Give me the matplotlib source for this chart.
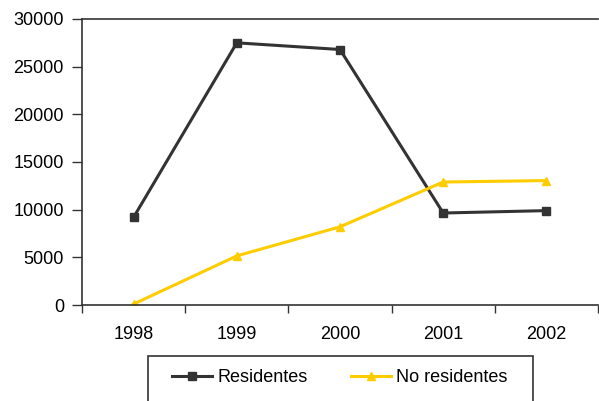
import numpy as np
import matplotlib
matplotlib.use("Agg")
import matplotlib.pyplot as plt
from matplotlib.patches import Rectangle

years = ["1998", "1999", "2000", "2001", "2002"]
residentes = [9200, 27500, 26800, 9650, 9900]
no_residentes = [100, 5150, 8200, 12900, 13050]

DARK = "#333333"
YELLOW = "#FFCC00"

plt.rcParams["font.family"] = ["Liberation Sans", "DejaVu Sans"]

fig = plt.figure(figsize=(5.99, 4.01), dpi=100)
ax = fig.add_axes([82 / 599, 96 / 401, 516 / 599, 286 / 401])

x = np.arange(len(years))
l1, = ax.plot(x, residentes, color=DARK, lw=2.2, marker="s", ms=6,
              label="Residentes")
l2, = ax.plot(x, no_residentes, color=YELLOW, lw=2.2, marker="^", ms=6,
              label="No residentes")

ax.set_xlim(-0.5, len(years) - 0.5)
ax.set_ylim(0, 30000)
ax.set_yticks(np.arange(0, 30001, 5000))
ax.tick_params(axis="y", labelsize=13, length=7, width=1, color=DARK, pad=6)

# category labels centred, tick marks on the boundaries
ax.set_xticks(np.arange(-0.5, len(years)), minor=False)
ax.set_xticklabels([])
ax.set_xticks(x, minor=True)
ax.set_xticklabels(years, minor=True, fontsize=13)
ax.tick_params(axis="x", which="major", length=6, width=1, color=DARK)
ax.tick_params(axis="x", which="minor", length=0, pad=15)

for s in ["left", "bottom", "top"]:
    ax.spines[s].set_color(DARK)
    ax.spines[s].set_linewidth(1.2)
ax.spines["right"].set_visible(False)

# legend box at the bottom
fig.patches.append(Rectangle((148 / 599, -0.05), 385 / 599, 0.05 + 45 / 401,
                             transform=fig.transFigure, fill=False,
                             edgecolor=DARK, lw=1.2))
fig.legend(handles=[l1, l2], loc="center", bbox_to_anchor=(340 / 599, 23 / 401),
           ncol=2, frameon=False, fontsize=13, handlelength=2.2,
           handletextpad=0.3, columnspacing=2.4)

fig.savefig("out.png", dpi=100)
